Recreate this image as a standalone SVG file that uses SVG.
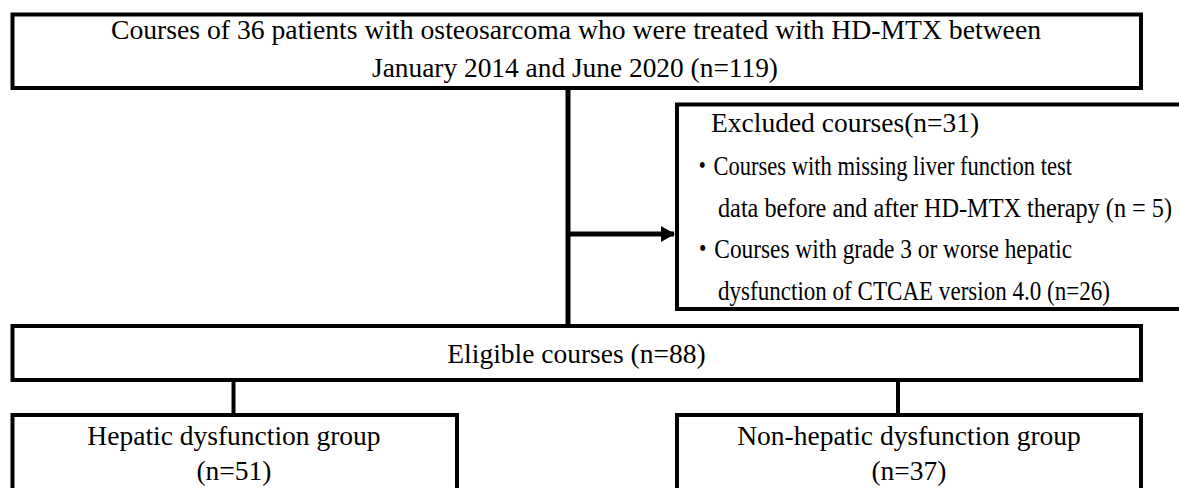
<svg xmlns="http://www.w3.org/2000/svg" width="1179" height="488" viewBox="0 0 1179 488">
<style>
.box{fill:#fff;stroke:#000;stroke-width:4}
.t{font-family:"Liberation Serif","Times New Roman","Noto Sans CJK JP",serif;font-size:27.5px;fill:#000}
.c{text-anchor:middle}
.ln{stroke:#000;fill:none}
</style>
<defs>
<marker id="ah" markerWidth="14" markerHeight="16" refX="13" refY="8" orient="auto" markerUnits="userSpaceOnUse">
<path d="M0,0 L14,8 L0,16 Z" fill="#000"/>
</marker>
</defs>
<rect width="1179" height="488" fill="#fff"/>
<g id="connectors">
<line class="ln" x1="568" y1="88" x2="568" y2="326" stroke-width="5"/>
<line class="ln" x1="568" y1="234" x2="674" y2="234" stroke-width="5" marker-end="url(#ah)"/>
<line class="ln" x1="233.5" y1="380" x2="233.5" y2="415" stroke-width="4"/>
<line class="ln" x1="898" y1="380" x2="898" y2="415" stroke-width="4"/>
</g>
<g id="node-courses">
<rect class="box" x="12.5" y="14.5" width="1128.5" height="73.5"/>
<text class="t c" x="576" y="39" font-size="28" textLength="930" lengthAdjust="spacingAndGlyphs">Courses of 36 patients with osteosarcoma who were treated with HD-MTX between</text>
<text class="t c" x="575" y="77" font-size="28" textLength="406" lengthAdjust="spacingAndGlyphs">January 2014 and June 2020 (n=119)</text>
</g>
<g id="node-excluded">
<rect class="box" x="677" y="104.5" width="520" height="204.5"/>
<text class="t" x="711" y="132">Excluded courses(n=31)</text>
<text class="t" x="691" y="175" textLength="381" lengthAdjust="spacingAndGlyphs">・Courses with missing liver function test</text>
<text class="t" x="718" y="217" textLength="454" lengthAdjust="spacingAndGlyphs">data before and after HD-MTX therapy (n = 5)</text>
<text class="t" x="691" y="258" textLength="381" lengthAdjust="spacingAndGlyphs">・Courses with grade 3 or worse hepatic</text>
<text class="t" x="718" y="300" textLength="392" lengthAdjust="spacingAndGlyphs">dysfunction of CTCAE version 4.0 (n=26)</text>
</g>
<g id="node-eligible">
<rect class="box" x="12.5" y="326" width="1128.5" height="54"/>
<text class="t c" x="576.5" y="363">Eligible courses (n=88)</text>
</g>
<g id="node-hepatic">
<rect class="box" x="12.5" y="415" width="444.5" height="90"/>
<text class="t c" x="234" y="445">Hepatic dysfunction group</text>
<text class="t c" x="234" y="480">(n=51)</text>
</g>
<g id="node-nonhepatic">
<rect class="box" x="677" y="415" width="464" height="90"/>
<text class="t c" x="909" y="445">Non-hepatic dysfunction group</text>
<text class="t c" x="909" y="480">(n=37)</text>
</g>
</svg>
